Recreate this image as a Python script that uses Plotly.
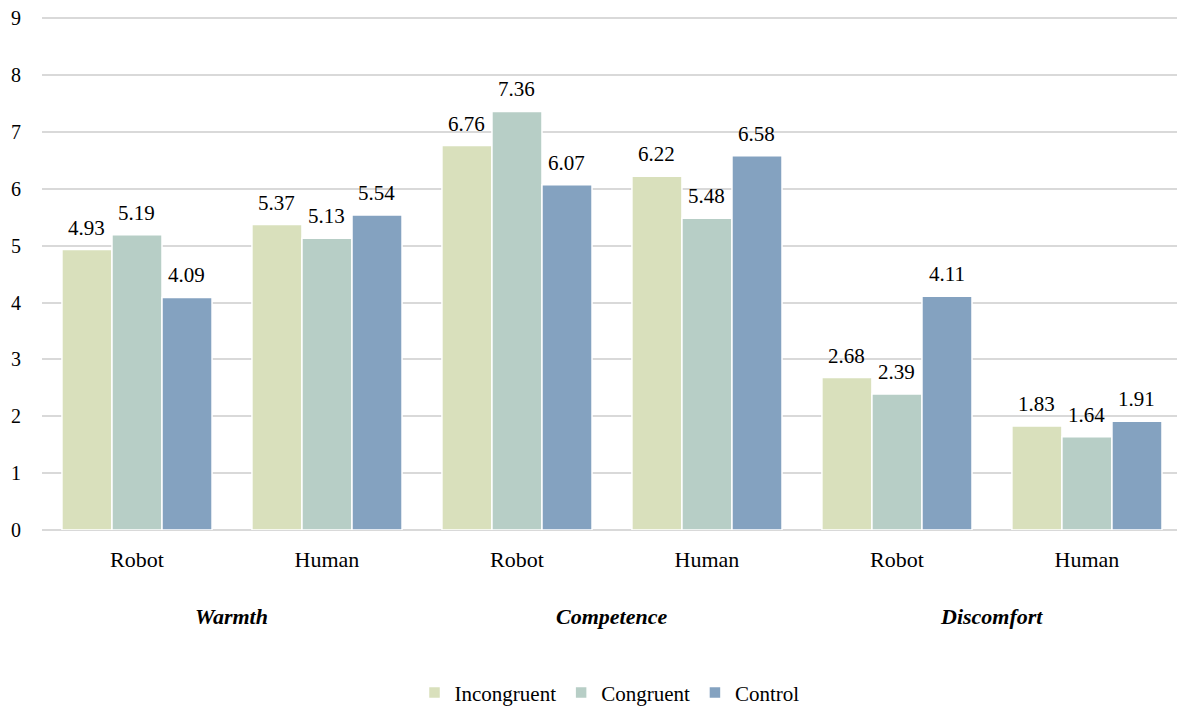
import plotly.graph_objects as go

dimensions = ["Warmth", "Competence", "Discomfort"]
targets = ["Robot", "Human"]
categories = [f"{d}|{t}" for d in dimensions for t in targets]
tick_labels = [t for d in dimensions for t in targets]

incongruent = [4.93, 5.37, 6.76, 6.22, 2.68, 1.83]
congruent = [5.19, 5.13, 7.36, 5.48, 2.39, 1.64]
control = [4.09, 5.54, 6.07, 6.58, 4.11, 1.91]

series = [
    ("Incongruent", incongruent, "#D9E0BC"),
    ("Congruent", congruent, "#B7CEC6"),
    ("Control", control, "#84A2C0"),
]

FONT = "'Times New Roman', 'Liberation Serif', 'DejaVu Serif', serif"
BAR_PX = 50  # width of one bar in pixels, used to place value labels

fig = go.Figure()
for j, (name, vals, color) in enumerate(series):
    fig.add_trace(go.Bar(
        name=name,
        x=categories,
        y=vals,
        marker=dict(color=color, line=dict(color="white", width=1.5)),
    ))
    # value labels above each bar
    for i, v in enumerate(vals):
        fig.add_annotation(
            x=i, y=v, xref="x", yref="y",
            text=f"{v:.2f}", showarrow=False,
            xshift=(j - 1) * BAR_PX, yanchor="bottom", yshift=8,
            font=dict(family=FONT, size=21, color="black"),
        )

for i, d in enumerate(dimensions):
    fig.add_annotation(
        x=2 * i + 0.5, y=0, xref="x", yref="y",
        text=f"<b><i>{d}</i></b>",
        showarrow=False, yshift=-86,
        font=dict(family=FONT, size=22, color="black"),
    )

fig.update_layout(
    width=1177, height=710,
    margin=dict(l=42, r=0, t=17, b=180, autoexpand=False),
    plot_bgcolor="white", paper_bgcolor="white",
    barmode="group", bargap=0.21, bargroupgap=0,
    font=dict(family=FONT, size=20, color="black"),
    legend=dict(
        orientation="h", x=0.5, xanchor="center",
        yref="container", y=0.024, yanchor="middle",
        font=dict(family=FONT, size=21, color="black"),
        traceorder="normal",
    ),
    showlegend=True,
)
fig.update_xaxes(
    type="category", tickvals=categories, ticktext=tick_labels,
    range=[-0.5, 5.474],
    tickfont=dict(family=FONT, size=22, color="black"),
    showline=False, showgrid=False, ticks="", ticklabelstandoff=14,
)
fig.update_yaxes(
    range=[0, 9.02], tickvals=list(range(10)), showgrid=True,
    gridcolor="#D9D9D9", gridwidth=1.5,
    zeroline=True, zerolinecolor="#D9D9D9", zerolinewidth=1.5,
    tickfont=dict(family=FONT, size=20, color="black"),
    ticklabelstandoff=20,
)

fig.write_html("out.html")
